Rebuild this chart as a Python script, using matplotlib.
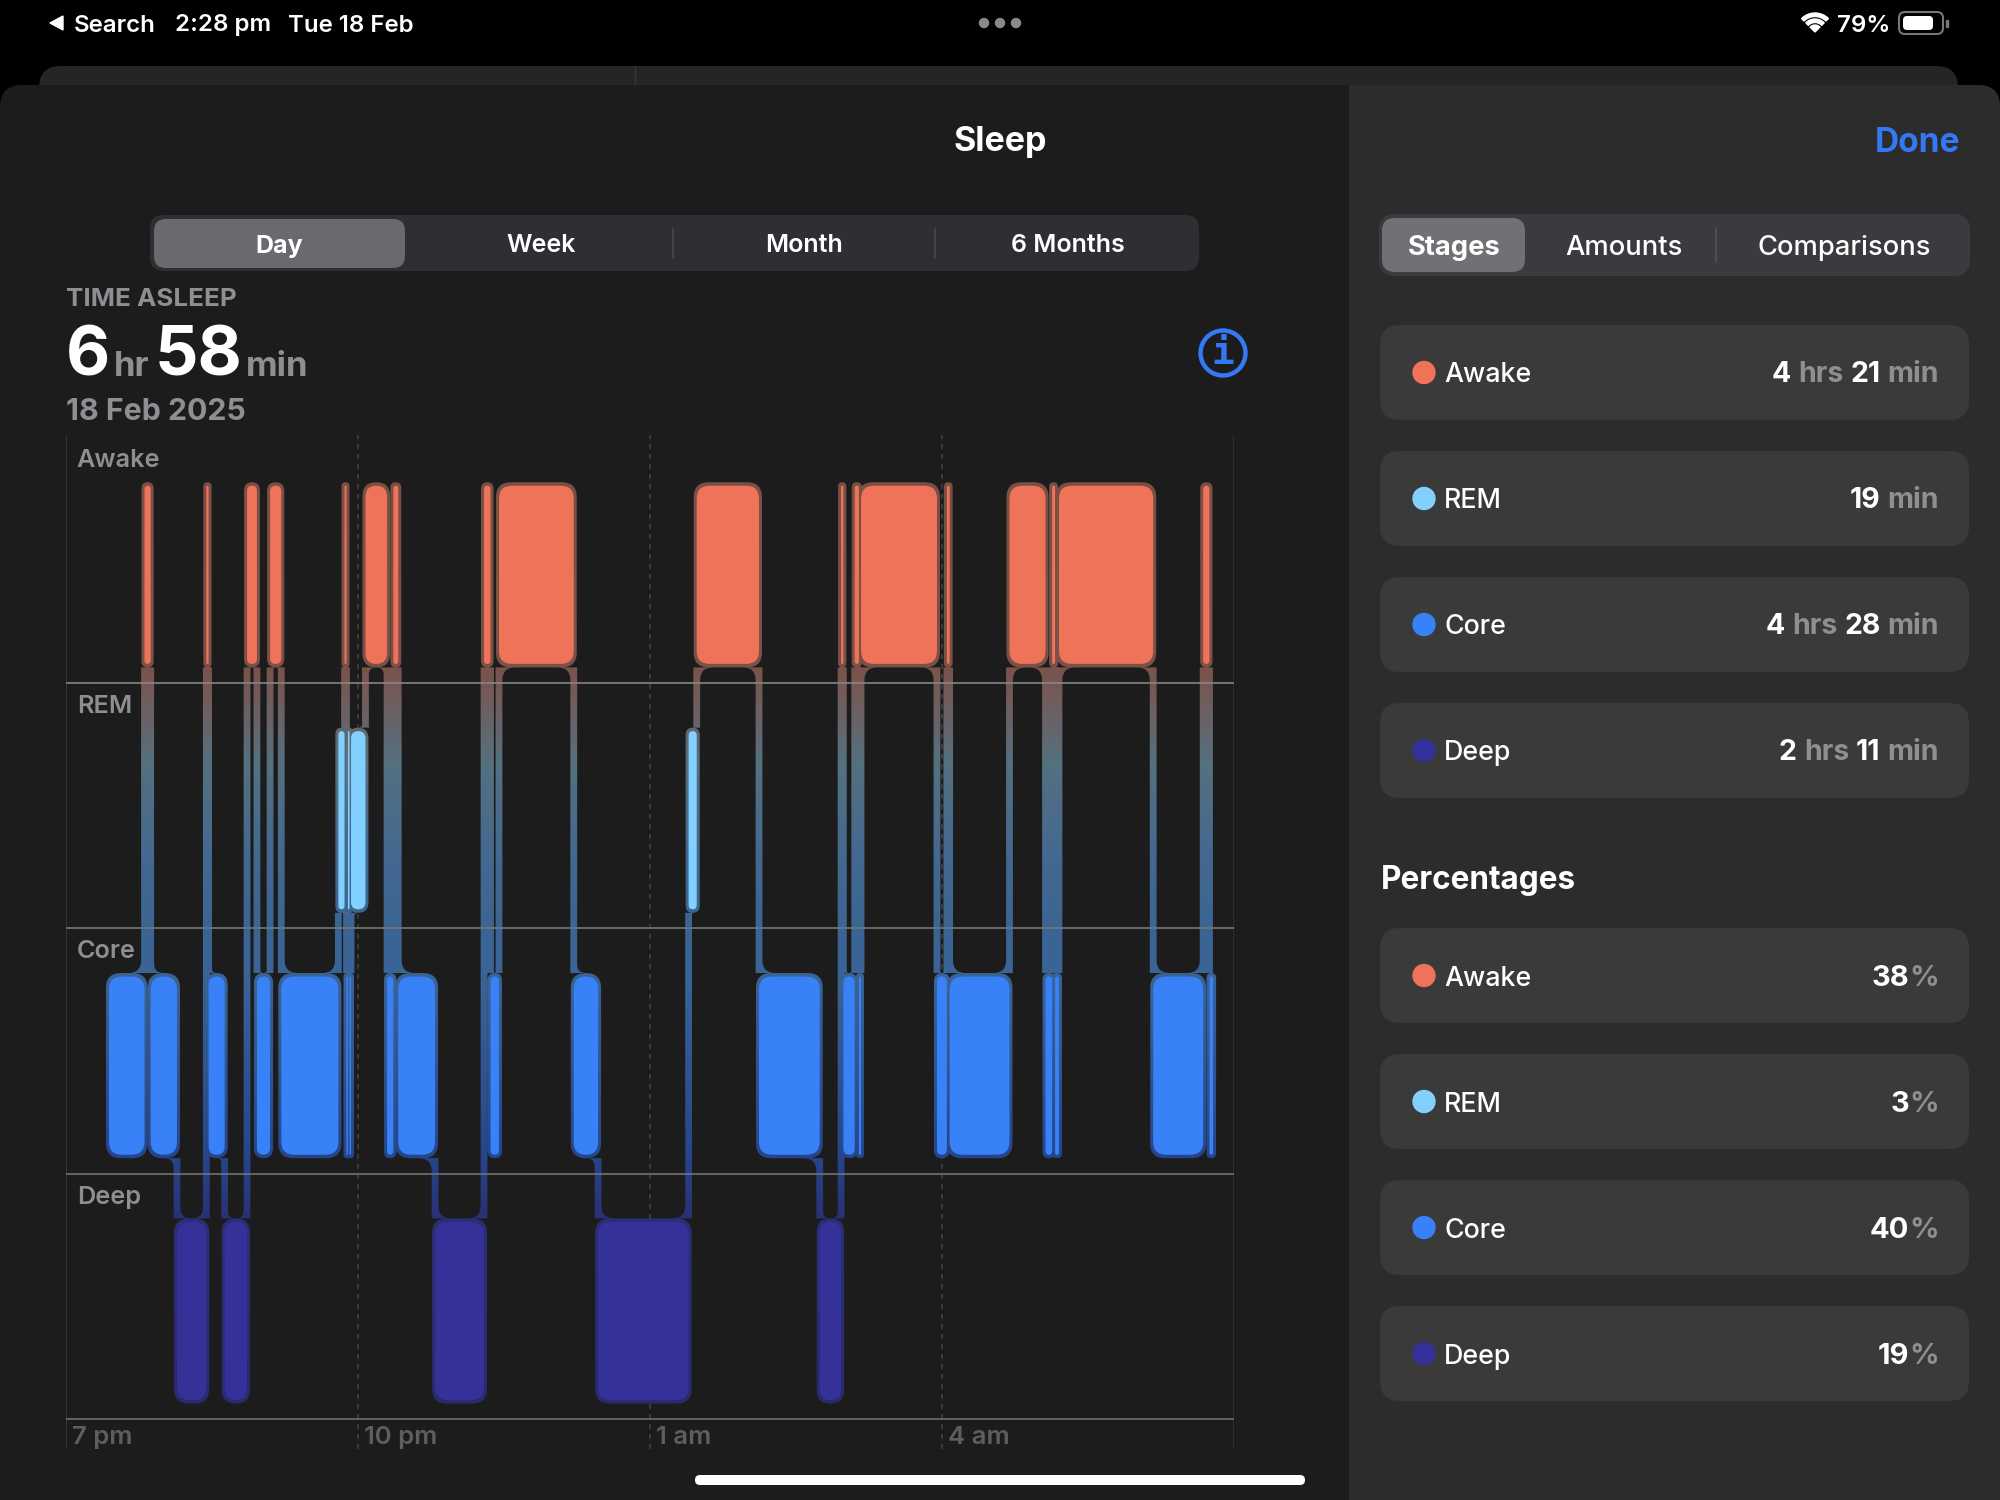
import matplotlib
matplotlib.use('Agg')
import matplotlib.pyplot as plt
import numpy as np
from matplotlib.colors import LinearSegmentedColormap
from matplotlib.patches import Circle, FancyBboxPatch, Polygon, Rectangle, Wedge
from matplotlib.path import Path
from matplotlib.transforms import ScaledTranslation

plt.rcParams['font.family'] = ['Inter', 'DejaVu Sans']

# sleep timeline, minutes after 7 pm and the stage between each pair of times
stage_times = [26.5, 48.4, 52.2, 68.4, 86.5, 87.9, 97.8, 111.6, 117.7, 125.8, 132.7,
               167.9, 171.7, 172.9, 173.8, 174.8, 175.7, 184.6, 197.9, 201.8, 204.8,
               227.5, 257.7, 261.7, 266.9, 313.0, 328.0, 383.8, 388.8, 427.2, 464.6,
               477.8, 479.2, 486.2, 488.8, 490.1, 536.9, 543.0, 544.7, 581.6, 603.8,
               607.9, 609.7, 612.1, 670.2, 701.0, 704.9, 707.1]
stage_seq = ['Core', 'Awake', 'Core', 'Deep', 'Awake', 'Core', 'Deep', 'Awake', 'Core', 'Awake', 'Core',
             'REM', 'Awake', 'Core', 'REM', 'Core', 'REM', 'Awake', 'Core', 'Awake', 'Core',
             'Deep', 'Awake', 'Core', 'Awake', 'Core', 'Deep', 'REM', 'Awake', 'Core', 'Deep',
             'Awake', 'Core', 'Awake', 'Core', 'Awake', 'Core', 'Awake', 'Core', 'Awake', 'Core',
             'Awake', 'Core', 'Awake', 'Core', 'Awake', 'Core']

stages = ['Deep', 'Core', 'REM', 'Awake']
stage_colors = {'Awake': '#ef7359', 'REM': '#82d0ff', 'Core': '#3981f7', 'Deep': '#343299'}
hour_ticks = [0, 180, 360, 540]
hour_labels = ['7 pm', '10 pm', '1 am', '4 am']

tabs_left = ['Day', 'Week', 'Month', '6 Months']
tabs_right = ['Stages', 'Amounts', 'Comparisons']
summary_names = ['Awake', 'REM', 'Core', 'Deep']
summary_hours = [4, None, 4, 2]
summary_mins = [21, 19, 28, 11]
summary_pct = [38, 3, 40, 19]

BLUE = '#3478f6'
GRAY = '#8e8e93'

# chart area in pixels
CH_L, CH_R, CH_T, CH_B = 66, 1234, 435, 1449
ROW = 245.4
PX_X = 720 / (CH_R - CH_L)
PX_Y = 1 / ROW
ASPECT = PX_Y / PX_X
BAR_LO, BAR_HI = 0.077, 0.803


def round_box(x0, x1, y0, y1, r_px):
    w = x1 - x0
    r = min(r_px * PX_X, w / 2 * 0.999)
    return FancyBboxPatch((x0, y0), w, y1 - y0, boxstyle=f'round,pad=0,rounding_size={r}',
                          mutation_aspect=ASPECT)


def ccw(pts):
    x, y = np.array(pts).T
    area = np.sum(x * np.roll(y, -1) - np.roll(x, -1) * y)
    return pts if area > 0 else pts[::-1]


def fillet(xc, yc, dx, dy):
    # small concave corner where a connector leaves a bar
    t = np.linspace(0, 1, 9)
    cx = xc + (1 - t) ** 2 * dx
    cy = yc + t ** 2 * dy
    return Path(ccw([(xc, yc)] + list(zip(cx, cy))) + [(xc, yc)], closed=True)


def draw_chart(fig):
    ax = fig.add_axes([CH_L / 2000, 1 - CH_B / 1500, (CH_R - CH_L) / 2000, (CH_B - CH_T) / 1500])
    ax.patch.set_alpha(0)
    ymin = -(CH_B - 1419) / ROW
    ymax = (1419 - CH_T) / ROW
    ax.set_xlim(0, 720)
    ax.set_ylim(ymin, ymax)
    for s in ax.spines.values():
        s.set_visible(False)
    ax.set_yticks([])

    ax.set_xticks(hour_ticks, hour_labels, fontsize=18.5, fontweight='semibold', color='#5e5e61', ha='left')
    ax.tick_params(axis='x', length=0, pad=-16.3)
    offset = ScaledTranslation(6 / 100, 0, fig.dpi_scale_trans)
    for lbl in ax.get_xticklabels():
        lbl.set_transform(lbl.get_transform() + offset)

    for x in hour_ticks[1:]:
        ax.axvline(x, color='#404042', lw=1.2, ls=(0, (3, 3)), zorder=1)
    ax.axvline(0, color='#3a3a3c', lw=1.2, zorder=1)
    ax.axvline(720, color='#2f2f31', lw=1.2, zorder=1)
    for y, c in zip([0, 1, 2, 3], ['#6e6e6e', '#727272', '#777777', '#858585']):
        ax.axhline(y, color=c, lw=1.2, zorder=3)

    for name, y in zip(['Awake', 'REM', 'Core', 'Deep'], [3.9, 2.9, 1.9, 0.9]):
        ax.text(8 * PX_X + 4 - 2.3, y + 0.004, name, color=GRAY, fontsize=18.2, fontweight='semibold', va='center')

    halo = []
    level = [stages.index(s) for s in stage_seq]
    pad_x, pad_y = 3 * PX_X, 3.5 * PX_Y
    half = 3.4 * PX_X
    r = 13
    for i, lv in enumerate(level):
        x0, x1 = stage_times[i], stage_times[i + 1]
        halo.append(round_box(x0 - pad_x, x1 + pad_x, lv + BAR_LO - pad_y, lv + BAR_HI + pad_y, 15).get_path())
        if i == len(level) - 1:
            continue
        xb, nxt = x1, level[i + 1]
        hi_edge = max(lv, nxt) + BAR_LO - pad_y
        lo_edge = min(lv, nxt) + BAR_HI + pad_y
        halo.append(Path([(xb - half, lo_edge), (xb + half, lo_edge), (xb + half, hi_edge), (xb - half, hi_edge),
                          (xb - half, lo_edge)], closed=True))
        # fillets on both bars, on the side the bar extends to
        left_w = (x1 - x0) / PX_X
        right_w = (stage_times[i + 2] - x1) / PX_X
        upper_left = lv > nxt
        for width, side, is_upper in [(left_w, -1, upper_left), (right_w, 1, not upper_left)]:
            rx = min(r, (width - 6.8) / 2)
            if rx <= 0:
                continue
            xc = xb + side * half
            if is_upper:
                halo.append(fillet(xc, hi_edge, side * rx * PX_X, -rx * PX_Y))
            else:
                halo.append(fillet(xc, lo_edge, side * rx * PX_X, rx * PX_Y))

    stops = [(482, '#7a4f45'), (666, '#7a5249'), (690, '#745a58'), (763, '#55717f'), (850, '#45698f'),
             (928, '#3b6593'), (975, '#3a6496'), (1157, '#26468a'), (1222, '#2a2f73'), (1449, '#2b2a6c')]
    cmap = LinearSegmentedColormap.from_list(
        'halo', [(0, stops[0][1])] + [((p - CH_T) / (CH_B - CH_T), c) for p, c in stops[:-1]] + [(1, stops[-1][1])])
    im = ax.imshow(np.linspace(0, 1, 1024).reshape(-1, 1), cmap=cmap, vmin=0, vmax=1, aspect='auto',
                   extent=[0, 720, ymin, ymax], origin='upper', zorder=2, interpolation='bilinear')
    im.set_clip_path(Path.make_compound_path(*halo), transform=ax.transData)
    ax.set_xlim(0, 720)
    ax.set_ylim(ymin, ymax)

    for i, (name, lv) in enumerate(zip(stage_seq, level)):
        x0, x1 = stage_times[i], stage_times[i + 1]
        mid = (x0 + x1) / 2
        w = max(x1 - x0, 1.5 * PX_X)
        box = round_box(mid - w / 2, mid + w / 2, lv + BAR_LO, lv + BAR_HI, 13)
        box.set(facecolor=stage_colors[name], edgecolor='none', zorder=4)
        ax.add_patch(box)
    return ax


def pill(ax, x0, x1, y0, y1, color, r, z=1):
    p = FancyBboxPatch((x0, y0), x1 - x0, y1 - y0, boxstyle=f'round,pad=0,rounding_size={r}',
                       facecolor=color, edgecolor='none', zorder=z)
    ax.add_patch(p)
    return p


def runs(ax, x, y, parts, align='left', size=20.5, weight='bold', gap=7):
    # text pieces in different colours on one baseline
    renderer = ax.figure.canvas.get_renderer()
    items = [ax.text(0, y, s, color=c, fontsize=size, fontweight=weight, va='baseline', zorder=5) for s, c in parts]
    widths = [t.get_window_extent(renderer).width for t in items]
    total = sum(widths) + gap * (len(items) - 1)
    pos = x - total if align == 'right' else x
    for t, w in zip(items, widths):
        t.set_x(pos)
        pos += w + gap


def draw_chrome(fig):
    ax = fig.add_axes([0, 0, 1, 1])
    ax.set_xlim(0, 2000)
    ax.set_ylim(1500, 0)
    ax.axis('off')
    ax.add_patch(Rectangle((0, 0), 2000, 1500, color='black', zorder=0))

    # status bar
    ax.add_patch(Polygon([(50, 23), (63, 16), (63, 30)], color='white', zorder=2))
    for x, s in zip([74, 175, 288], ['Search', '2:28 pm', 'Tue 18 Feb']):
        ax.text(x, 25.5, s, color='white', fontsize=17.3, fontweight='semibold', va='center')
    for x in [984, 1000, 1016]:
        ax.add_patch(Circle((x, 23), 4.5, color='#8a8a8a', zorder=2))
    for r in [19, 13]:
        ax.add_patch(Wedge((1815, 32), r, 225, 315, width=3.5, color='white', zorder=2))
    ax.add_patch(Wedge((1815, 32), 7, 225, 315, color='white', zorder=2))
    ax.text(1837, 25.5, '79%', color='white', fontsize=17.3, fontweight='semibold', va='center')
    pill(ax, 1899, 1943, 12, 34, '#000000', 6)
    pill(ax, 1899, 1943, 12, 34, 'none', 6).set(edgecolor='#77777a', lw=1.5)
    pill(ax, 1903, 1933, 16, 30, 'white', 4, 2)
    ax.add_patch(Rectangle((1946, 20), 2, 7, color='#77777a', zorder=2))

    # sheets
    pill(ax, 39, 1958, 66, 200, '#252527', 22)
    ax.plot([635, 635], [66, 85], color='#38383a', lw=1, zorder=1)
    pill(ax, 0, 2000, 85, 1700, '#1c1c1c', 22, 2)
    right = pill(ax, 1200, 2000, 85, 1700, '#2c2c2c', 22, 2)
    right.set_clip_path(Rectangle((1349, 0), 651, 1500, transform=ax.transData))

    ax.text(1000, 142.5, 'Sleep', color='white', fontsize=24.5, fontweight='bold', ha='center', va='center', zorder=5)
    ax.text(1960, 142.5, 'Done', color=BLUE, fontsize=24, fontweight='bold', ha='right', va='center', zorder=5)

    # left tabs
    pill(ax, 150, 1199, 215, 271, '#2f2f33', 14, 3)
    pill(ax, 154, 405, 219, 268, '#69696e', 12, 4)
    for x, s, w in zip([279, 541, 804, 1068], tabs_left, ['bold', 'semibold', 'semibold', 'semibold']):
        ax.text(x, 246, s, color='white', fontsize=18, fontweight=w, ha='center', va='center', zorder=5)
    for x in [673, 935]:
        ax.plot([x, x], [229, 258], color='#4a4a4e', lw=1.2, zorder=4)

    # right tabs
    pill(ax, 1379, 1970, 214, 276, '#3a3a3f', 16, 3)
    pill(ax, 1382, 1525, 218, 272, '#707075', 13, 4)
    for x, s, w in zip([1454, 1624, 1844], tabs_right, ['bold', 'medium', 'medium']):
        ax.text(x, 248, s, color='white', fontsize=19.7, fontweight=w, ha='center', va='center', zorder=5)
    ax.plot([1716, 1716], [228, 262], color='#515156', lw=1.2, zorder=4)

    # headline numbers
    ax.text(66, 299, 'TIME ASLEEP', color=GRAY, fontsize=18.7, fontweight='bold', va='center', zorder=5)
    runs(ax, 66, 376, [('6', 'white')], size=49)
    runs(ax, 114, 376, [('hr', GRAY)], size=25)
    runs(ax, 154.5, 376, [('58', 'white')], size=49)
    runs(ax, 246, 376, [('min', GRAY)], size=25)
    ax.text(66, 412.5, '18 Feb 2025', color=GRAY, fontsize=21.8, fontweight='bold', va='center', zorder=5)
    ax.add_patch(Circle((1223, 353), 22.5, facecolor='none', edgecolor=BLUE, lw=3.2, zorder=5))
    ax.text(1223, 354, 'i', color=BLUE, fontsize=27, fontweight='bold', family=['DejaVu Sans Mono'],
            ha='center', va='center', zorder=5)

    # summary rows
    tops = [325, 451, 577, 703]
    tops2 = [928, 1054, 1180, 1306]
    dots = [stage_colors[n] for n in summary_names]
    for top, top2, name, hrs, mins, pct, dot in zip(tops, tops2, summary_names, summary_hours,
                                                    summary_mins, summary_pct, dots):
        for t in (top, top2):
            pill(ax, 1380, 1969, t, t + 95, '#3a3a3a', 20, 3)
            ax.add_patch(Circle((1424, t + 47.5), 11, color=dot, zorder=5))
            ax.text(1444, t + 57.5, name, color='white', fontsize=19.3, fontweight='medium', va='baseline', zorder=5)
        parts = []
        if hrs is not None:
            parts += [(str(hrs), 'white'), ('hrs', GRAY)]
        parts += [(str(mins), 'white'), ('min', GRAY)]
        runs(ax, 1939, top + 57.5, parts, 'right')
        runs(ax, 1939, top2 + 57.5, [(str(pct), 'white'), ('%', GRAY)], 'right', size=21, gap=0)
    ax.text(1381, 880.5, 'Percentages', color='white', fontsize=22.7, fontweight='bold', va='center', zorder=5)

    pill(ax, 695, 1305, 1475, 1485, 'white', 5, 6)


def main():
    fig = plt.figure(figsize=(20, 15), dpi=100)
    draw_chrome(fig)
    draw_chart(fig)
    fig.savefig('out.png', dpi=100)


if __name__ == '__main__':
    main()
